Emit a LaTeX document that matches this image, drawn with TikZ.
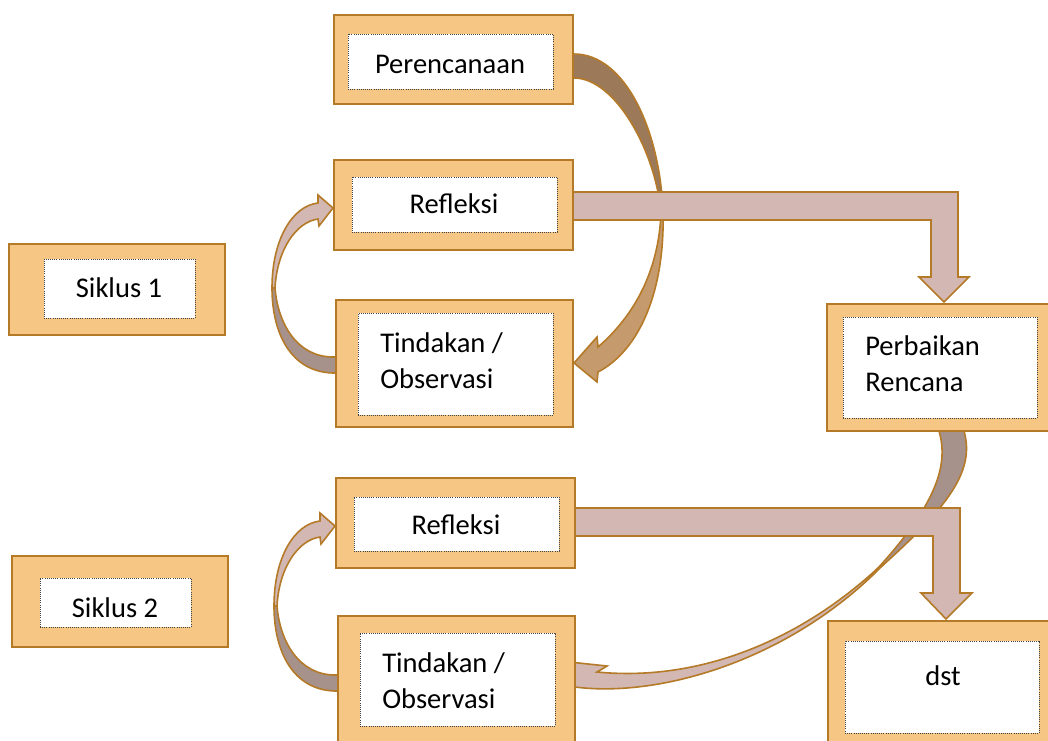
\documentclass[tikz,border=0pt]{standalone}
\usepackage{fontspec}
\setmainfont{Carlito}
\usetikzlibrary{fit}
\definecolor{boxfill}{RGB}{246,198,132}
\definecolor{boxline}{RGB}{180,122,40}
\definecolor{barfill}{RGB}{211,183,178}
\definecolor{darkcurve}{RGB}{156,121,88}
\definecolor{tancurve}{RGB}{197,154,108}
\definecolor{greycurve}{RGB}{167,145,139}
\begin{document}
\begin{tikzpicture}[x=0.75pt,y=-0.75pt,
  outerbox/.style={draw=boxline, line width=1.6pt, fill=boxfill, inner sep=0pt},
  innerbox/.style={draw=black!75, densely dotted, line width=0.6pt, fill=white, inner sep=0pt},
  band/.style={draw=boxline, line width=1.2pt, line join=miter},
  lbl/.style={font=\fontsize{21.4}{27}\selectfont, inner sep=0pt, text=black}]
\useasboundingbox (0,0) rectangle (1048,740);
\clip (0,0) rectangle (1048,740);

% ---- curved arrows (behind) ----
% Perencanaan -> Tindakan 1
\draw[band, fill=darkcurve] (560,54) -- (574,54) .. controls (625,54) and (660,130) .. (663,212)
  -- (661,212) .. controls (655,150) and (615,78) .. (574,78) -- (560,78) -- cycle;
\draw[band, fill=tancurve] (663,212) .. controls (665,290) and (640,350) .. (598,372)
  -- (597,382) -- (574,363) -- (597,337) -- (598,347)
  .. controls (635,315) and (659,270) .. (661,212) -- cycle;

% Tindakan 1 -> Refleksi 1 and Tindakan 2 -> Refleksi 2
\foreach \sy in {0,318}{
\begin{scope}[shift={(\sy/159,\sy)}]
\draw[band, fill=greycurve] (345,373) -- (333,373) .. controls (292,372) and (272,335) .. (272,288)
  -- (275,288) .. controls (278,325) and (298,357) .. (333,357) -- (345,357) -- cycle;
\draw[band, fill=barfill] (272,288) .. controls (272,240) and (292,206) .. (318,203)
  -- (318,195) -- (333,208) -- (319,226) -- (318,219)
  .. controls (296,222) and (277,250) .. (275,288) -- cycle;
\end{scope}}

% Perbaikan Rencana -> Tindakan 2
\draw[band, fill=greycurve] (939,425) -- (939,431) .. controls (948,462) and (940,500) .. (878,568)
  -- (882,566) .. controls (950,505) and (975,470) .. (964,431) -- (964,425) -- cycle;
\draw[band, fill=barfill] (878,568) .. controls (800,640) and (700,682) .. (597,672)
  -- (607,666) -- (560,661) -- (560,687) -- (575,687)
  .. controls (660,698) and (790,660) .. (882,566) -- cycle;

% ---- bent arrows ----
\draw[band, fill=barfill] (573,192) -- (958,192) -- (958,277) -- (969,277) -- (944,302)
  -- (919,277) -- (931,277) -- (931,220) -- (573,220) -- cycle;
\draw[band, fill=barfill] (575,508) -- (960,508) -- (960,593) -- (972,593) -- (946,619)
  -- (921,593) -- (933,593) -- (933,536) -- (575,536) -- cycle;

% ---- boxes ----
\node[outerbox, fit={(334,15) (573,104)}] (perO) {};
\node[innerbox, fit={(348,34) (553,89)}] (perI) {};
\node[lbl, anchor=base] (per) at (450,73) {Perencanaan};

\node[outerbox, fit={(334,160) (573,250)}] (ref1O) {};
\node[innerbox, fit={(352,177) (557,232)}] (ref1I) {};
\node[lbl, anchor=base] (ref1) at (454,213) {Refleksi};

\node[outerbox, fit={(336,300) (573,427)}] (tin1O) {};
\node[innerbox, fit={(358,313) (553,415)}] (tin1I) {};
\node[lbl, anchor=base west] (tin1) at (380,352) {\begin{tabular}[t]{@{}l@{}}Tindakan /\\Observasi\end{tabular}};

\node[outerbox, fit={(9,244) (225,335)}] (sik1O) {};
\node[innerbox, fit={(44,259) (195,318)}] (sik1I) {};
\node[lbl, anchor=base] (sik1) at (119,297) {Siklus 1};

\node[outerbox, fit={(827,304) (1053,431)}] (perbO) {};
\node[innerbox, fit={(843,317) (1037,418)}] (perbI) {};
\node[lbl, anchor=base west] (perb) at (865,355) {\begin{tabular}[t]{@{}l@{}}Perbaikan\\Rencana\end{tabular}};

\node[outerbox, fit={(336,478) (575,568)}] (ref2O) {};
\node[innerbox, fit={(354,497) (559,551)}] (ref2I) {};
\node[lbl, anchor=base] (ref2) at (456,534) {Refleksi};

\node[outerbox, fit={(12,556) (228,647)}] (sik2O) {};
\node[innerbox, fit={(40,578) (191,627)}] (sik2I) {};
\node[lbl, anchor=base] (sik2) at (115,617) {Siklus 2};

\node[outerbox, fit={(338,616) (575,760)}] (tin2O) {};
\node[innerbox, fit={(360,633) (555,726)}] (tin2I) {};
\node[lbl, anchor=base west] (tin2) at (382,672) {\begin{tabular}[t]{@{}l@{}}Tindakan /\\Observasi\end{tabular}};

\node[outerbox, fit={(828,621) (1053,760)}] (dstO) {};
\node[innerbox, fit={(845,641) (1039,733)}] (dstI) {};
\node[lbl, anchor=base] (dst) at (943,685) {dst};
\end{tikzpicture}
\end{document}
